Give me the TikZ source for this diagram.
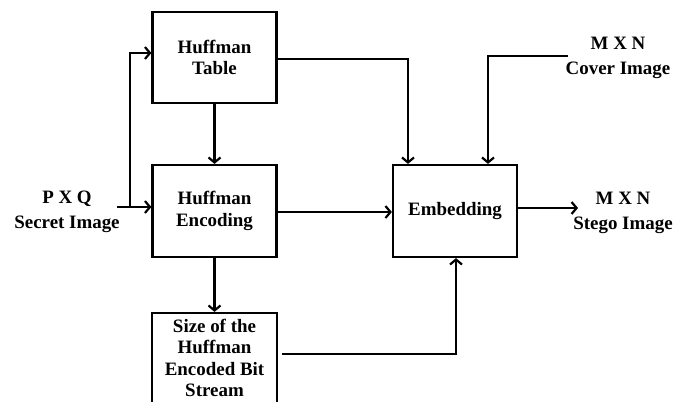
\documentclass[tikz,border=0pt]{standalone}
\usepackage{fontspec}
\setmainfont{Liberation Serif}
\usetikzlibrary{arrows.meta}
\begin{document}
\begin{tikzpicture}[x=1bp,y=-1bp,
  conn/.style={line width=2.2bp,-{Straight Barb[length=5bp,width=12bp,line width=2.2bp]}},
  blk/.style={draw,line width=2.2bp,inner sep=0pt,align=center,
    font=\fontsize{19}{21.5}\selectfont\bfseries},
  lbl/.style={inner sep=0pt,align=center,font=\fontsize{19}{25}\selectfont\bfseries}]
\useasboundingbox (0,0) rectangle (676,401);
\clip (0,0) rectangle (676,401);
\node[blk,minimum width=124bp,minimum height=91bp] (tab) at (214.5,57.5) {Huffman\\Table};
\node[blk,minimum width=124bp,minimum height=92bp] (enc) at (214.5,211) {Huffman\\Encoding};
\node[blk,minimum width=125bp,minimum height=90bp] (size) at (214.5,358) {Size of the\\Huffman\\Encoded Bit\\Stream};
\node[blk,minimum width=124bp,minimum height=92bp] (emb) at (455,211) {Embedding};
\node[lbl] (sec) at (67,212) {P X Q\\Secret Image};
\node[lbl] (cov) at (618,58) {M X N\\Cover Image};
\node[lbl] (ste) at (623,213) {M X N\\Stego Image};
\coordinate (s0) at (117,207);
\coordinate (s1) at (130,207);
\coordinate (c0) at (568,56);
\coordinate (o1) at (578,208);
\coordinate (z0) at (282,354);
\draw[conn] (s0) -- (enc.west |- s0);
\draw[conn] (s1) -- (130,53) -- (tab.west |- 0,53);
\draw[conn] (tab) -- (enc);
\draw[conn] (enc) -- (size);
\draw[conn] (enc.east |- 0,212) -- (emb.west |- 0,212);
\draw[conn] (tab.east |- 0,59) -- (408,59) -- (emb.north -| 408,0);
\draw[conn] (c0) -- (488,56) -- (emb.north -| 488,0);
\draw[conn] (z0) -- (456,354) -- (emb.south -| 456,0);
\draw[conn] (emb.east |- o1) -- (o1);
\end{tikzpicture}
\end{document}
